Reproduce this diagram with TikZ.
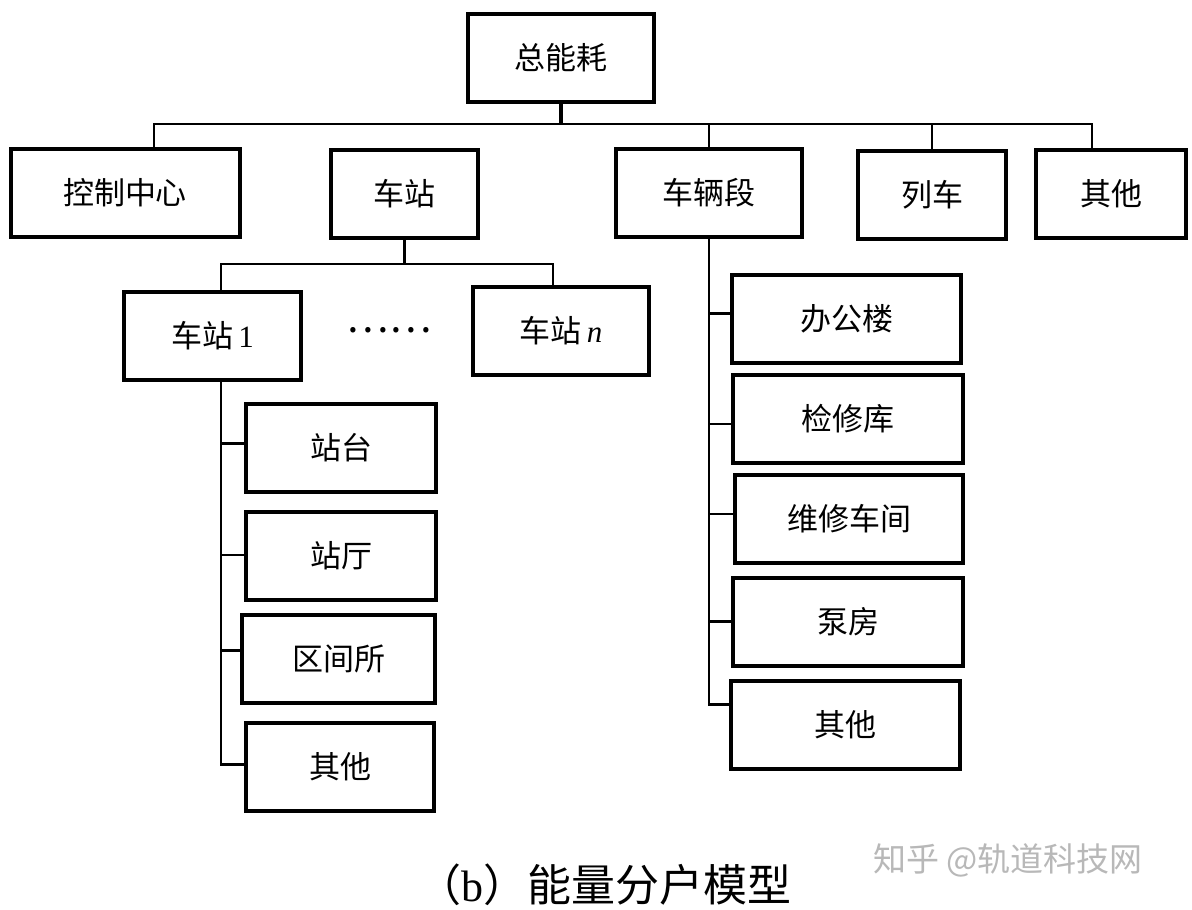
\documentclass[tikz,border=0pt]{standalone}
\usepackage{fontspec}
\setmainfont{Noto Sans CJK SC}
\newfontfamily\lat{Liberation Serif}
\begin{document}
\begin{tikzpicture}[x=1pt,y=-1pt,
  box/.style={draw=black,line width=4pt,fill=white,inner sep=0pt,
    minimum width=#1,minimum height=88pt,font=\fontsize{31}{31}\selectfont},
  box/.default=186pt,
  conn/.style={draw=black,line width=2.6pt},
  thick conn/.style={draw=black,line width=4pt}]
\useasboundingbox[fill=white] (0,0) rectangle (1192,910);
% level 0
\node[box=186pt] (top) at (561,58) {总能耗};
% level 1
\node[box=229pt] (kz) at (125,193) {控制中心};
\node[box=147pt] (cz) at (404.5,193.5) {车站};
\node[box=186pt] (cld) at (709,193) {车辆段};
\node[box=148pt] (lc) at (932,195) {列车};
\node[box=150pt] (qt) at (1111,194) {其他};
% stations
\node[box=177pt] (cz1) at (212.5,335.5) {车站\,{\lat 1}};
\node[box=176pt] (czn) at (561,331) {车站\,{\lat\itshape n}};
\node[font=\fontsize{40}{40}\selectfont,inner sep=0pt] (dots) at (389,330) {……};
% station parts
\node[box=190pt] (zt) at (341,447.5) {站台};
\node[box=190pt] (zting) at (341,556) {站厅};
\node[box=193pt] (qjs) at (338.5,658.5) {区间所};
\node[box=188pt] (qt1) at (340,766.5) {其他};
% depot parts
\node[box=229pt] (bgl) at (846.5,318.5) {办公楼};
\node[box=230pt] (jxk) at (848,419) {检修库};
\node[box=228pt] (wxcj) at (849,519) {维修车间};
\node[box=230pt] (bf) at (848,621.5) {泵房};
\node[box=229pt] (qt2) at (845.5,724.5) {其他};
% bus coordinates
\coordinate (busL) at (154,124);
\coordinate (busR) at (1092,124);
\coordinate (sbL) at (221,264);
\coordinate (sbR) at (553,264);
\coordinate (lt) at (221,0);
\coordinate (rt) at (708,0);
% top tree
\draw[thick conn] (top.south) -- (top.south |- busL);
\draw[conn] (kz.north -| busL) -- (busL) -- (busR) -- (busR |- qt.north);
\draw[conn] (cld.north |- busL) -- (cld.north);
\draw[conn] (lc.north |- busL) -- (lc.north);
% station subtree
\draw[conn] (cz.south) -- (cz.south |- sbL);
\draw[conn] (cz1.north -| sbL) -- (sbL) -- (sbR) -- (sbR |- czn.north);
% station 1 trunk
\draw[conn] (cz1.south -| lt) -- ([yshift=2pt]qt1.west -| lt) -- ([yshift=2pt]qt1.west);
\draw[conn] ([yshift=4pt]zt.west -| lt) -- ([yshift=4pt]zt.west);
\draw[conn] ([yshift=1pt]zting.west -| lt) -- ([yshift=1pt]zting.west);
\draw[conn] ([yshift=8pt]qjs.west -| lt) -- ([yshift=8pt]qjs.west);
% depot trunk
\draw[conn] (cld.south) -- ([yshift=20pt]qt2.west -| cld.south) -- ([yshift=20pt]qt2.west);
\draw[conn] ([yshift=5pt]bgl.west -| cld.south) -- ([yshift=5pt]bgl.west);
\draw[conn] ([yshift=-5pt]jxk.west -| cld.south) -- ([yshift=-5pt]jxk.west);
\draw[conn] ([yshift=5pt]wxcj.west -| cld.south) -- ([yshift=5pt]wxcj.west);
\draw[conn] (bf.west -| cld.south) -- (bf.west);
% caption and watermark
\node[font=\fontsize{44}{44}\selectfont,inner sep=0pt] (cap) at (604,885) {（{\lat b}）能量分户模型};
\node[font=\fontsize{33}{33}\selectfont,text=black!28,inner sep=0pt,anchor=west] (wm) at (873,860) {知乎 @轨道科技网};
\end{tikzpicture}
\end{document}
